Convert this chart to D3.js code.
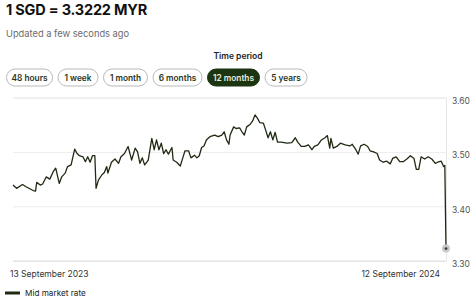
<!DOCTYPE html>
<html>
<head>
<meta charset="utf-8">
<script src="https://cdn.jsdelivr.net/npm/d3@7"></script>
<style>
  body { margin: 0; background: #fff; font-family: Inter, "Noto Sans", sans-serif; }
  svg { display: block; }
</style>
</head>
<body>
<div id="app"></div>
<script>
// rate: day offset from 13 Sep 2023, mid market rate
const days = [0,3,8,11,17,19,20,23,25,28,31,34,36,39,41,44,46,49,52,54,56,59,61,63,65,67,69,70,72,75,77,79,80,83,86,89,91,94,97,100,103,105,107,109,111,114,117,119,121,123,125,127,129,131,134,135,138,141,143,145,148,150,153,155,157,159,161,163,166,170,173,176,178,180,182,183,186,188,191,193,195,197,200,202,204,206,208,211,213,215,217,219,221,223,226,231,235,238,240,243,246,249,252,254,257,260,263,265,267,268,270,273,276,280,284,286,289,291,293,296,299,301,304,307,309,312,315,318,320,323,326,329,332,335,338,340,342,344,347,350,353,356,358,361,363,364,365];
const rates = [3.439,3.433,3.440,3.436,3.429,3.428,3.444,3.439,3.441,3.454,3.450,3.464,3.470,3.442,3.454,3.461,3.473,3.476,3.505,3.497,3.493,3.491,3.482,3.491,3.481,3.493,3.493,3.433,3.448,3.458,3.462,3.473,3.461,3.481,3.487,3.479,3.491,3.497,3.510,3.485,3.507,3.500,3.479,3.489,3.476,3.485,3.525,3.504,3.522,3.504,3.516,3.497,3.504,3.496,3.508,3.485,3.481,3.474,3.488,3.502,3.502,3.489,3.494,3.489,3.493,3.508,3.511,3.522,3.528,3.531,3.528,3.531,3.537,3.522,3.514,3.531,3.546,3.543,3.544,3.537,3.531,3.546,3.551,3.557,3.568,3.562,3.554,3.553,3.540,3.526,3.537,3.522,3.536,3.518,3.518,3.516,3.517,3.526,3.518,3.510,3.510,3.513,3.504,3.510,3.513,3.522,3.526,3.530,3.507,3.525,3.507,3.510,3.516,3.513,3.511,3.514,3.504,3.496,3.511,3.514,3.510,3.502,3.500,3.497,3.485,3.481,3.483,3.478,3.488,3.491,3.482,3.482,3.487,3.493,3.488,3.468,3.468,3.491,3.487,3.491,3.487,3.479,3.481,3.483,3.473,3.475,3.3222];
const yTicks = [3.30, 3.40, 3.50, 3.60];
const periods = ["48 hours", "1 week", "1 month", "6 months", "12 months", "5 years"];
const activePeriod = "12 months";
const startLabel = "13 September 2023";
const endLabel = "12 September 2024";
const title = "1 SGD = 3.3222 MYR";

const W = 474, H = 301;
const plot = {left: 13, right: 446, top: 97.5, bottom: 260.7};
const ink = "#1f2a12";

const startDate = new Date(2023, 8, 13);
const points = days.map((d, i) => ({date: d3.timeDay.offset(startDate, d), v: rates[i]}));

const svg = d3.select("#app").append("svg").attr("width", W).attr("height", H);

svg.append("text").attr("x", 6).attr("y", 14.5)
  .attr("font-size", 14.5).attr("font-weight", 700).attr("fill", "#111")
  .attr("letter-spacing", -0.2).text(title);
svg.append("text").attr("x", 6).attr("y", 36.5)
  .attr("font-size", 9.3).attr("fill", "#6b6b6b").text("Updated a few seconds ago");

svg.append("text").attr("x", 238).attr("y", 58.5).attr("text-anchor", "middle")
  .attr("font-size", 8.5).attr("font-weight", 600).attr("fill", "#222").text("Time period");

// period buttons
const btnW = [47, 41, 45, 50, 53, 43];
let bx = 6;
const btns = svg.append("g");
periods.forEach((p, i) => {
  const on = p === activePeriod;
  const g = btns.append("g").attr("transform", `translate(${bx},68.5)`);
  g.append("rect").attr("x", 0.5).attr("y", 0.5).attr("width", btnW[i] - 1).attr("height", 17)
    .attr("rx", 8.5).attr("fill", on ? "#1c3510" : "#fff")
    .attr("stroke", on ? "#1c3510" : "#b9b9b9");
  g.append("text").attr("x", btnW[i] / 2).attr("y", 12).attr("text-anchor", "middle")
    .attr("font-size", 8.3).attr("font-weight", 600)
    .attr("fill", on ? "#e6efe0" : "#2a3320").text(p);
  bx += btnW[i] + 4.5;
});

const x = d3.scaleTime()
  .domain([startDate, d3.timeDay.offset(startDate, 365)])
  .range([plot.left, plot.right]);
const y = d3.scaleLinear().domain([3.30, 3.60]).range([plot.bottom, plot.top]);

// grid
const yAxis = d3.axisRight(y).tickValues(yTicks).tickFormat(d3.format(".2f"))
  .tickSize(-(plot.right - plot.left)).tickPadding(6);
const ga = svg.append("g").attr("transform", `translate(${plot.right},0)`).call(yAxis);
ga.select(".domain").attr("stroke", "#e6e6e6");
ga.selectAll(".tick line").attr("stroke", "#ececec");
ga.selectAll(".tick text").attr("font-size", 8.5).attr("fill", "#555")
  .attr("font-family", "Inter, sans-serif").attr("dy", "0.7em");
ga.selectAll(".tick").filter(d => d === 3.30).select("line").attr("stroke", "#e0e0e0");

const line = d3.line().x(d => x(d.date)).y(d => y(d.v));
svg.append("path").datum(points).attr("d", line)
  .attr("fill", "none").attr("stroke", ink).attr("stroke-width", 1.3)
  .attr("stroke-linejoin", "round");

const last = points[points.length - 1];
svg.append("circle").attr("cx", x(last.date)).attr("cy", y(last.v)).attr("r", 4)
  .attr("fill", "#c9c9c9");
svg.append("circle").attr("cx", x(last.date)).attr("cy", y(last.v)).attr("r", 1.4)
  .attr("fill", "#3a3a3a");

// date labels
svg.append("text").attr("x", 10).attr("y", 277).attr("font-size", 8.5).attr("fill", "#333")
  .text(startLabel);
svg.append("text").attr("x", 440).attr("y", 277).attr("text-anchor", "end")
  .attr("font-size", 8.5).attr("fill", "#333").text(endLabel);

// legend
svg.append("line").attr("x1", 5).attr("x2", 20).attr("y1", 293).attr("y2", 293)
  .attr("stroke", ink).attr("stroke-width", 3);
svg.append("text").attr("x", 25).attr("y", 296).attr("font-size", 8.2)
  .attr("fill", "#222").text("Mid market rate");
</script>
</body>
</html>
